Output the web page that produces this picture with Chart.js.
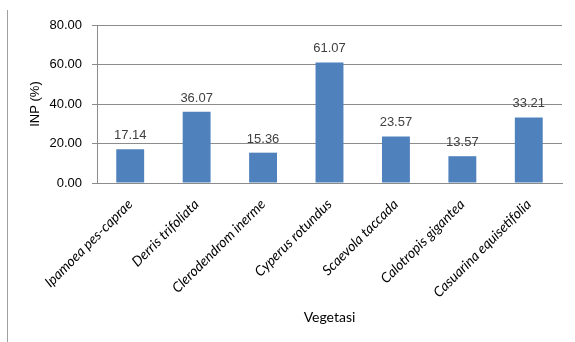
<!DOCTYPE html>
<html>
<head>
<meta charset="utf-8">
<script src="https://cdn.jsdelivr.net/npm/chart.js@4/dist/chart.umd.min.js"></script>
<style>
    html, body { margin: 0; padding: 0; background: #fff; }
    #wrap { position: relative; width: 575px; height: 342px; }
    #garis { position: absolute; left: 7px; top: 10px; width: 0; height: 332px; border-left: 1px solid #a0a0a0; }
</style>
</head>
<body>
<div id="wrap">
    <div id="garis"></div>
    <canvas id="grafik" width="575" height="342"></canvas>
</div>
<script>
const vegetasi = ["Ipamoea pes-caprae", "Derris trifoliata", "Clerodendrom inerme", "Cyperus rotundus",
    "Scaevola taccada", "Calotropis gigantea", "Casuarina equisetifolia"];
const nilaiINP = [17.14, 36.07, 15.36, 61.07, 23.57, 13.57, 33.21];
const tickY = [0, 20, 40, 60, 80];

// label angka di atas batang
const labelNilai = {
    id: "labelNilai",
    afterDatasetsDraw(chart) {
        const ctx = chart.ctx;
        const meta = chart.getDatasetMeta(0);
        ctx.save();
        ctx.font = "13px 'Liberation Sans', Arial, sans-serif";
        ctx.fillStyle = "#404040";
        ctx.textAlign = "center";
        ctx.textBaseline = "alphabetic";
        meta.data.forEach((bar, i) => {
            ctx.fillText(nilaiINP[i].toFixed(2), bar.x, bar.y - 10);
        });
        ctx.restore();
    }
};

const ctx = document.getElementById("grafik").getContext("2d");
new Chart(ctx, {
    type: "bar",
    data: {
        labels: vegetasi,
        datasets: [{
            data: nilaiINP,
            backgroundColor: "#4F81BD",
            barPercentage: 0.42,
            categoryPercentage: 1
        }]
    },
    options: {
        responsive: false,
        animation: false,
        layout: { padding: { top: 25, right: 13, bottom: 8, left: 0 } },
        plugins: { legend: { display: false }, tooltip: { enabled: false } },
        scales: {
            x: {
                grid: { display: false, drawTicks: false },
                border: { color: "#8c8c8c" },
                ticks: {
                    minRotation: 45, maxRotation: 45, padding: 13,
                    color: "#000",
                    font: { family: "Lato, sans-serif", size: 14, style: "italic" }
                },
                title: {
                    display: true, text: "Vegetasi", color: "#000",
                    font: { family: "Lato, sans-serif", size: 14 },
                    padding: { top: 4, bottom: 8 }
                },
                afterFit: s => { s.height = 151; }
            },
            y: {
                min: 0, max: 80,
                afterBuildTicks: s => { s.ticks = tickY.map(v => ({ value: v })); },
                grid: { color: "#8c8c8c", tickLength: 5, tickColor: "#8c8c8c" },
                border: { color: "#8c8c8c" },
                ticks: {
                    padding: 10, color: "#000",
                    font: { family: "'Liberation Sans', Arial, sans-serif", size: 13 },
                    callback: v => v.toFixed(2)
                },
                title: {
                    display: true, text: "INP (%)", color: "#000",
                    font: { family: "'Liberation Sans', Arial, sans-serif", size: 13 },
                    padding: { top: 28, bottom: 0 }
                },
                afterFit: s => { s.width = 97; }
            }
        }
    },
    plugins: [labelNilai]
});
</script>
</body>
</html>
